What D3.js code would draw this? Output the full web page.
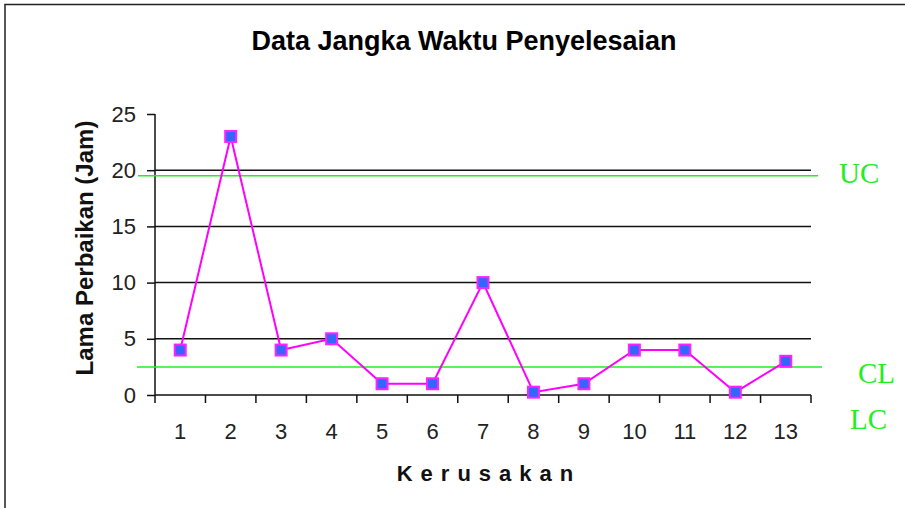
<!DOCTYPE html>
<html>
<head>
<meta charset="utf-8">
<script src="https://cdn.jsdelivr.net/npm/d3@7"></script>
<style>
  body { margin: 0; background: #fff; }
  svg { display: block; }
</style>
</head>
<body>
<svg width="905" height="508"></svg>
<script>
/**************************  DATA **************************/
var categories = ["1","2","3","4","5","6","7","8","9","10","11","12","13"];
var lamaPerbaikan = [4, 23, 4, 5, 1, 1, 10, 0.25, 1, 4, 4, 0.25, 3];
var yTicks = [0, 5, 10, 15, 20, 25];
var gridValues = [5, 10, 15, 20];
var limitNames = ["UC", "CL"];
var limitValues = [19.5, 2.5];
var sideLabels = ["UC", "CL", "LC"];

/**************************  LAYOUT **************************/
// NB: "top" is a read-only window global, so plot edges get a prefix
var plotL = 155, plotR = 811, plotT = 114, plotB = 395;
var svg = d3.select("svg");

var x = d3.scaleBand().domain(categories).range([plotL, plotR]);
var y = d3.scaleLinear().domain([0, 25]).range([plotB, plotT]);

var sans = "'Liberation Sans', Arial, sans-serif";
var serif = "'Liberation Serif', 'Times New Roman', serif";

// outer frame (runs off the right and bottom edge)
svg.append("path")
  .attr("d", "M5,520 L5,4.5 L920,4.5")
  .attr("fill", "none")
  .attr("stroke", "#222")
  .attr("stroke-width", 1.5);

// title
svg.append("text")
  .attr("x", 464).attr("y", 50)
  .attr("text-anchor", "middle")
  .attr("font-family", sans)
  .attr("font-weight", "bold")
  .attr("font-size", 27)
  .text("Data Jangka Waktu Penyelesaian");

// horizontal gridlines
svg.selectAll("line.grid")
  .data(gridValues)
  .enter().append("line")
  .attr("class", "grid")
  .attr("x1", plotL).attr("x2", plotR)
  .attr("y1", function(d) { return y(d); })
  .attr("y2", function(d) { return y(d); })
  .attr("stroke", "#111")
  .attr("stroke-width", 1.5);

// y axis
var yAxis = d3.axisLeft(y).tickValues(yTicks).tickSize(8).tickPadding(11);
var gy = svg.append("g").attr("transform", "translate(" + plotL + ",0)").call(yAxis);
gy.select(".domain").attr("d", "M0," + plotT + "V" + plotB).attr("stroke", "#111").attr("stroke-width", 1.5);
gy.selectAll(".tick line").attr("stroke", "#111").attr("stroke-width", 1.5);
gy.selectAll(".tick text")
  .attr("font-family", sans).attr("font-size", 22).attr("fill", "#222");

// x axis: ticks between categories
var gx = svg.append("g").attr("transform", "translate(0," + plotB + ")");
gx.append("line")
  .attr("x1", plotL).attr("x2", plotR)
  .attr("stroke", "#111").attr("stroke-width", 1.5);
var boundaries = categories.map(function(c) { return x(c); }).concat([plotR]);
gx.selectAll("line.tk")
  .data(boundaries)
  .enter().append("line")
  .attr("class", "tk")
  .attr("x1", function(d) { return d; }).attr("x2", function(d) { return d; })
  .attr("y1", 0).attr("y2", 8)
  .attr("stroke", "#111").attr("stroke-width", 1.5);
gx.selectAll("text")
  .data(categories)
  .enter().append("text")
  .attr("x", function(d) { return x(d) + x.bandwidth() / 2; })
  .attr("y", 44)
  .attr("text-anchor", "middle")
  .attr("font-family", sans).attr("font-size", 22).attr("fill", "#222")
  .text(function(d) { return d; });

// axis titles
svg.append("text")
  .attr("transform", "translate(93,248) rotate(-90)")
  .attr("text-anchor", "middle")
  .attr("font-family", sans).attr("font-weight", "bold").attr("font-size", 24)
  .attr("fill", "#111")
  .text("Lama Perbaikan (Jam)");

svg.append("text")
  .attr("x", 489).attr("y", 481)
  .attr("text-anchor", "middle")
  .attr("font-family", sans).attr("font-weight", "bold").attr("font-size", 22)
  .attr("letter-spacing", 8)
  .attr("fill", "#111")
  .text("Kerusakan");

// control limit lines
var limitExtents = { "UC": [plotL - 17, plotR + 7], "CL": [plotL - 18, plotR + 11] };
svg.selectAll("line.limit")
  .data(limitValues)
  .enter().append("line")
  .attr("class", "limit")
  .attr("x1", function(d, i) { return limitExtents[limitNames[i]][0]; })
  .attr("x2", function(d, i) { return limitExtents[limitNames[i]][1]; })
  .attr("y1", function(d) { return y(d); })
  .attr("y2", function(d) { return y(d); })
  .attr("stroke", "#22ee22")
  .attr("stroke-width", 1.5);

// side labels
var sidePos = { "UC": [839, 183], "CL": [858, 383], "LC": [850, 429] };
svg.selectAll("text.side")
  .data(sideLabels)
  .enter().append("text")
  .attr("class", "side")
  .attr("x", function(d) { return sidePos[d][0]; })
  .attr("y", function(d) { return sidePos[d][1]; })
  .attr("font-family", serif).attr("font-size", 29)
  .attr("fill", "#22ee22")
  .text(function(d) { return d; });

// series line
var line = d3.line()
  .x(function(d, i) { return x(categories[i]) + x.bandwidth() / 2; })
  .y(function(d) { return y(d); });

svg.append("path")
  .attr("d", line(lamaPerbaikan))
  .attr("fill", "none")
  .attr("stroke", "#ff00ff")
  .attr("stroke-width", 2);

// markers
var ms = 11;
svg.selectAll("rect.marker")
  .data(lamaPerbaikan)
  .enter().append("rect")
  .attr("class", "marker")
  .attr("x", function(d, i) { return x(categories[i]) + x.bandwidth() / 2 - ms / 2; })
  .attr("y", function(d) { return y(d) - ms / 2; })
  .attr("width", ms).attr("height", ms)
  .attr("fill", "#3366ff")
  .attr("stroke", "#ff22ff")
  .attr("stroke-width", 2);
</script>
</body>
</html>
